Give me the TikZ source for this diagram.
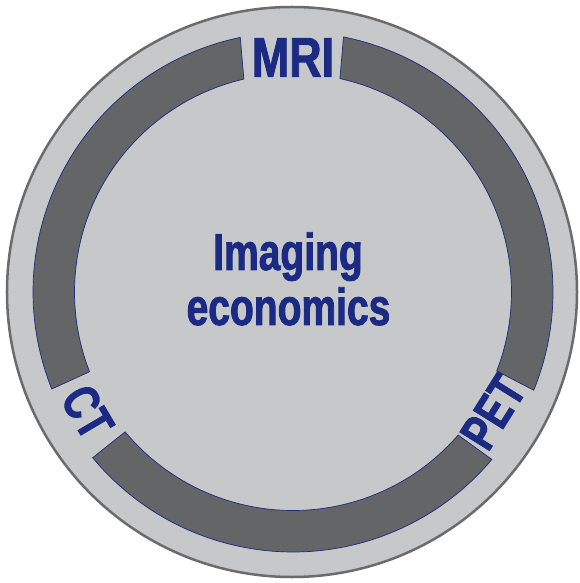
\documentclass[tikz,border=0pt]{standalone}
\usepackage{fontspec}
\newfontfamily\condA{Liberation Sans}[FakeStretch=0.75,FakeBold=1.6]
\newfontfamily\condB{Liberation Sans}[FakeStretch=0.80,FakeBold=1.6]
\definecolor{navy}{HTML}{1B2A83}
\definecolor{ringgray}{HTML}{646567}
\definecolor{diskgray}{HTML}{C7C8CA}
\definecolor{rimgray}{HTML}{6B6B6B}
\tikzset{
  seg/.style={fill=ringgray, draw=navy, line width=0.7pt, line join=miter},
  lbl/.style={text=navy, inner sep=0pt, font=\condA\bfseries\fontsize{51}{51}\selectfont},
  mid/.style={text=navy, inner sep=0pt, anchor=base, font=\condA\bfseries\fontsize{52}{52}\selectfont}
}
\begin{document}
\begin{tikzpicture}[x=1pt,y=1pt]
\useasboundingbox (-293,-291) rectangle (287,292);
% disk
\draw[fill=diskgray, draw=rimgray, line width=2.5pt] (-1,0) circle[radius=285];
% ring segments
\draw[seg] (-22.2:260) arc[start angle=-22.2, end angle=78.8, radius=260]
  -- (77.6:218.5) arc[start angle=77.6, end angle=-21.2, radius=218.5] -- cycle;
\draw[seg] (101.7:260) arc[start angle=101.7, end angle=201.9, radius=260]
  -- (201.4:218.5) arc[start angle=201.4, end angle=103, radius=218.5] -- cycle;
\draw[seg] (219.6:260) arc[start angle=219.6, end angle=319.9, radius=260]
  -- (319.1:218.5) arc[start angle=319.1, end angle=219.8, radius=218.5] -- cycle;
% labels
\node[lbl, font=\condB\bfseries\fontsize{56}{56}\selectfont] (mri) at (0,234.5) {MRI};
\node[lbl, rotate=-59.5] (ct) at (-205.5,-120) {CT};
\node[lbl, rotate=58] (pet) at (200,-120) {PET};
\node[mid] (l1) at (-5,22) {Imaging};
\node[mid] (l2) at (-4.5,-33) {economics};
\end{tikzpicture}
\end{document}
